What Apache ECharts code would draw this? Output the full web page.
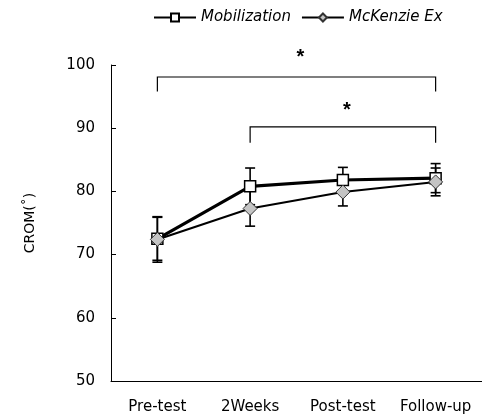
<!DOCTYPE html>
<html><head><meta charset="utf-8">
<script src="https://cdn.jsdelivr.net/npm/echarts@6/dist/echarts.min.js"></script>
<style>html,body{margin:0;padding:0;background:#fff}#c{width:482px;height:418px}</style>
</head><body><div id="c"></div>
<script>
var categories = ['Pre-test', '2Weeks', 'Post-test', 'Follow-up'];
var mobilization = [72.5, 80.8, 81.8, 82.1];
var mobilizationSD = [3.4, 2.9, 2.0, 2.3];
var mckenzie = [72.4, 77.3, 79.9, 81.5];
var mckenzieSD = [3.6, 2.8, 2.2, 2.2];
var yTicks = [50, 60, 70, 80, 90, 100];
// brackets: [startIndex, endIndex, topValue, legValue, label]
var brackets = [[0, 3, 98.1, 95.8, '*'], [1, 3, 90.2, 87.7, '*']];

var errData = [];
for (var i = 0; i < categories.length; i++) {
  errData.push([i, mobilization[i] - mobilizationSD[i], mobilization[i] + mobilizationSD[i]]);
  errData.push([i, mckenzie[i] - mckenzieSD[i], mckenzie[i] + mckenzieSD[i]]);
}
var chart = echarts.init(document.getElementById('c'));
var font = 'DejaVu Sans, sans-serif';
chart.setOption({
  animation: false,
  textStyle: {fontFamily: font},
  legend: {
    top: 5, left: 148, itemWidth: 42, itemHeight: 10, itemGap: 10,
    textStyle: {fontSize: 15, fontStyle: 'italic', color: '#000', fontFamily: font},
    data: ['Mobilization', 'McKenzie Ex']
  },
  grid: {left: 111, right: 0, top: 65, bottom: 37},
  xAxis: {
    type: 'category', data: categories, boundaryGap: true,
    axisLine: {lineStyle: {color: '#000', width: 1}},
    axisTick: {inside: true, length: 5, lineStyle: {color: '#000'}},
    axisLabel: {color: '#000', fontSize: 15, margin: 19, interval: 0, hideOverlap: false, fontFamily: font}
  },
  yAxis: {
    type: 'value', min: yTicks[0], max: yTicks[yTicks.length - 1], interval: 10,
    name: 'CROM(˚)', nameLocation: 'middle', nameGap: 74, nameRotate: 90,
    nameTextStyle: {color: '#000', fontSize: 14, fontFamily: font},
    splitLine: {show: false},
    axisLine: {show: true, lineStyle: {color: '#000', width: 1}},
    axisTick: {show: true, inside: true, length: 5, lineStyle: {color: '#000'}},
    axisLabel: {color: '#000', fontSize: 15, margin: 16, fontFamily: font}
  },
  series: [
    {
      type: 'custom', name: 'err', z: 1, silent: true,
      data: errData,
      renderItem: function (params, api) {
        var x = api.value(0);
        var lo = api.coord([x, api.value(1)]);
        var hi = api.coord([x, api.value(2)]);
        var w = 5;
        var st = {stroke: '#000', lineWidth: 1.6};
        return {type: 'group', children: [
          {type: 'line', shape: {x1: lo[0], y1: lo[1], x2: hi[0], y2: hi[1]}, style: st},
          {type: 'line', shape: {x1: lo[0] - w, y1: lo[1], x2: lo[0] + w, y2: lo[1]}, style: st},
          {type: 'line', shape: {x1: hi[0] - w, y1: hi[1], x2: hi[0] + w, y2: hi[1]}, style: st}
        ]};
      }
    },
    {
      type: 'line', name: 'Mobilization', data: mobilization, z: 3,
      symbol: 'rect', symbolSize: 11,
      lineStyle: {color: '#000', width: 3.2},
      itemStyle: {color: '#fff', borderColor: '#000', borderWidth: 1.5}
    },
    {
      type: 'line', name: 'McKenzie Ex', data: mckenzie, z: 4,
      symbol: 'diamond', symbolSize: 14,
      lineStyle: {color: '#000', width: 2},
      itemStyle: {color: '#c4c4c4', borderColor: '#333', borderWidth: 1}
    },
    {
      type: 'custom', name: 'sig', silent: true, z: 5,
      data: brackets,
      renderItem: function (params, api) {
        var a = api.coord([api.value(0), api.value(2)]);
        var b = api.coord([api.value(1), api.value(2)]);
        var aL = api.coord([api.value(0), api.value(3)]);
        var bL = api.coord([api.value(1), api.value(3)]);
        var st = {stroke: '#000', lineWidth: 1.2, fill: null};
        var idx = params.dataIndex;
        return {type: 'group', children: [
          {type: 'polyline', shape: {points: [[aL[0], aL[1]], [a[0], a[1]], [b[0], b[1]], [bL[0], bL[1]]]}, style: st},
          {type: 'text', style: {text: brackets[idx][4], x: (a[0] + b[0]) / 2 + 4, y: a[1] - (idx === 0 ? 20 : 16),
            fontSize: 20, fontWeight: 'bold', fill: '#000', align: 'center', verticalAlign: 'middle', fontFamily: 'Liberation Sans, sans-serif'}}
        ]};
      }
    }
  ]
});
</script></body></html>
